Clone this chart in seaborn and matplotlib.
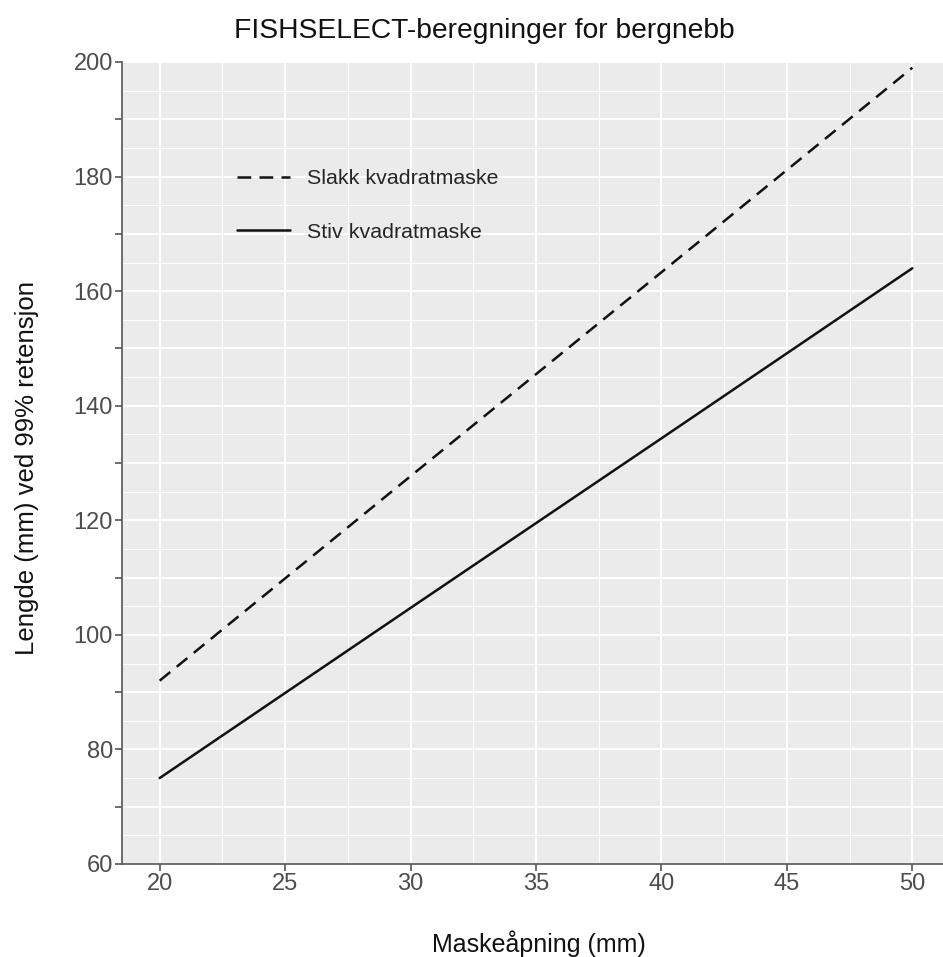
"""FISHSELECT-beregninger for bergnebb: lengde ved 99% retensjon mot maskeapning."""

import matplotlib
matplotlib.use("Agg")

import matplotlib.pyplot as plt
import matplotlib.ticker as mticker
import pandas as pd
import seaborn as sns

# data lest av figuren
maskeapning = [20, 30, 40, 50]
slakk = [92.0, 127.7, 163.3, 199.0]
stiv = [75.0, 104.7, 134.3, 164.0]
serier = ["Slakk kvadratmaske", "Stiv kvadratmaske"]

x_ticks = [20, 25, 30, 35, 40, 45, 50]
y_labels = [60, 80, 100, 120, 140, 160, 180, 200]

df = pd.DataFrame({
    "Maskeapning": maskeapning * 2,
    "Lengde": slakk + stiv,
    "Maske": [serier[0]] * len(maskeapning) + [serier[1]] * len(maskeapning),
})

sns.set_style("darkgrid", {"axes.facecolor": "#EBEBEB", "grid.color": "white"})
plt.rcParams["font.family"] = ["Liberation Sans", "DejaVu Sans"]

fig = plt.figure(figsize=(9.43, 9.57), dpi=100)
ax = fig.add_axes([122 / 943, 1 - 864 / 957, 828 / 943, 802 / 957])

sns.lineplot(
    data=df, x="Maskeapning", y="Lengde", style="Maske", hue="Maske",
    palette={serier[0]: "#111111", serier[1]: "#111111"},
    dashes={serier[0]: (5.5, 3.3), serier[1]: ""},
    linewidth=1.8, ax=ax,
)

ax.set_xlim(18.5, 51.5)
ax.set_ylim(60, 200)

ax.xaxis.set_major_locator(mticker.FixedLocator(x_ticks))
ax.xaxis.set_minor_locator(mticker.MultipleLocator(2.5))
ax.yaxis.set_major_locator(mticker.MultipleLocator(10))
ax.yaxis.set_minor_locator(mticker.MultipleLocator(5))
ax.yaxis.set_major_formatter(
    mticker.FuncFormatter(lambda v, p: f"{v:.0f}" if round(v) in y_labels else "")
)

ax.grid(which="major", color="white", linewidth=1.4)
ax.grid(which="minor", color="white", linewidth=0.7)
ax.tick_params(which="major", bottom=True, left=True, length=5, width=1.2,
               color="#555555", labelsize=17, labelcolor="#4D4D4D", pad=1.5)
ax.tick_params(which="minor", length=0)

for side in ["top", "right"]:
    ax.spines[side].set_visible(False)
for side in ["left", "bottom"]:
    ax.spines[side].set_visible(True)
    ax.spines[side].set_color("#555555")
    ax.spines[side].set_linewidth(1.2)

ax.set_xlabel("")
ax.set_ylabel("")
fig.text(539 / 943, 1 - 944 / 957, "Maskeåpning (mm)", ha="center", va="center",
         fontsize=18, color="#111111")
fig.text(27 / 943, 1 - 468 / 957, "Lengde (mm) ved 99% retensjon", ha="center",
         va="center", rotation=90, fontsize=18.5, color="#111111")
fig.text(484 / 943, 1 - 31 / 957, "FISHSELECT-beregninger for bergnebb",
         ha="center", va="center", fontsize=20.3, color="#111111")

leg = ax.legend(
    title=None, frameon=False, loc="center left",
    bbox_to_anchor=((237 - 122) / 828, 1 - (205.5 - 62) / 802),
    borderaxespad=0, borderpad=0, fontsize=15.4,
    handlelength=2.5, handletextpad=0.75, labelspacing=1.62,
)

fig.savefig("out.png", dpi=100)
